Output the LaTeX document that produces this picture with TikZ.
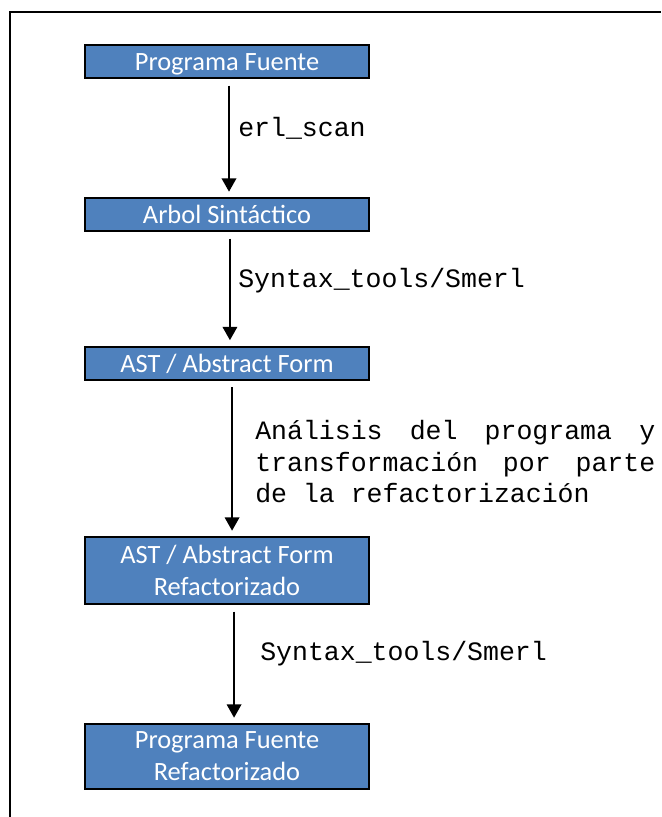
\documentclass[tikz,border=0pt]{standalone}
\usepackage{fontspec}
\setmainfont{Carlito}
\setmonofont{Liberation Mono}
\usetikzlibrary{arrows.meta}
\definecolor{boxblue}{RGB}{79,129,189}

\begin{document}
\begin{tikzpicture}[x=0.75pt,y=-0.75pt,
  box/.style={draw=black,line width=1.5pt,fill=boxblue,text=white,inner sep=0pt,
    minimum width=213pt,minimum height=24.75pt,align=center,
    font=\fontsize{19.8}{24}\selectfont},
  oneline/.style={text height=15pt,text depth=1.5pt},
  flow/.style={line width=1.1pt,-{Triangle[width=11pt,length=10pt]},
    shorten <=5pt,shorten >=4pt},
  lbl/.style={anchor=west,inner sep=0pt,align=left,
    font=\ttfamily\fontsize{19.9}{23.6}\selectfont}]
  \useasboundingbox (0,0) rectangle (661,817);
  \draw[line width=1.6pt] (10,817) -- (10,12) -- (661,12);

  \node[box,oneline] (fuente) at (227,61.5) {Programa Fuente};
  \node[box,oneline] (arbol) at (227,214.5) {Arbol Sintáctico};
  \node[box,oneline] (ast) at (227,363) {AST / Abstract Form};
  \node[box,minimum height=50.25pt] (astref) at (227,570.5) {AST / Abstract Form\\Refactorizado};
  \node[box,minimum height=48.75pt] (fuenteref) at (227,756.5) {Programa Fuente\\Refactorizado};

  \foreach \a/\b/\s in {fuente/arbol/1.5pt,arbol/ast/2.2pt,ast/astref/3.8pt,astref/fuenteref/5.3pt}
    \draw[flow] ([xshift=\s]\a.south) -- ([xshift=\s]\b.north);

  \node[lbl] (scan) at (238,128) {erl\_scan};
  \node[lbl] (smerl) at (238,281) {Syntax\_tools/Smerl};
  \node[lbl] (analisis) at (255,462) {\hbox to 300pt{Análisis\hfill del\hfill programa\hfill y}\\
    \hbox to 300pt{transformación\hfill por\hfill parte}\\de la refactorización};
  \node[lbl] (smerlref) at (260,654) {Syntax\_tools/Smerl};
\end{tikzpicture}
\end{document}
